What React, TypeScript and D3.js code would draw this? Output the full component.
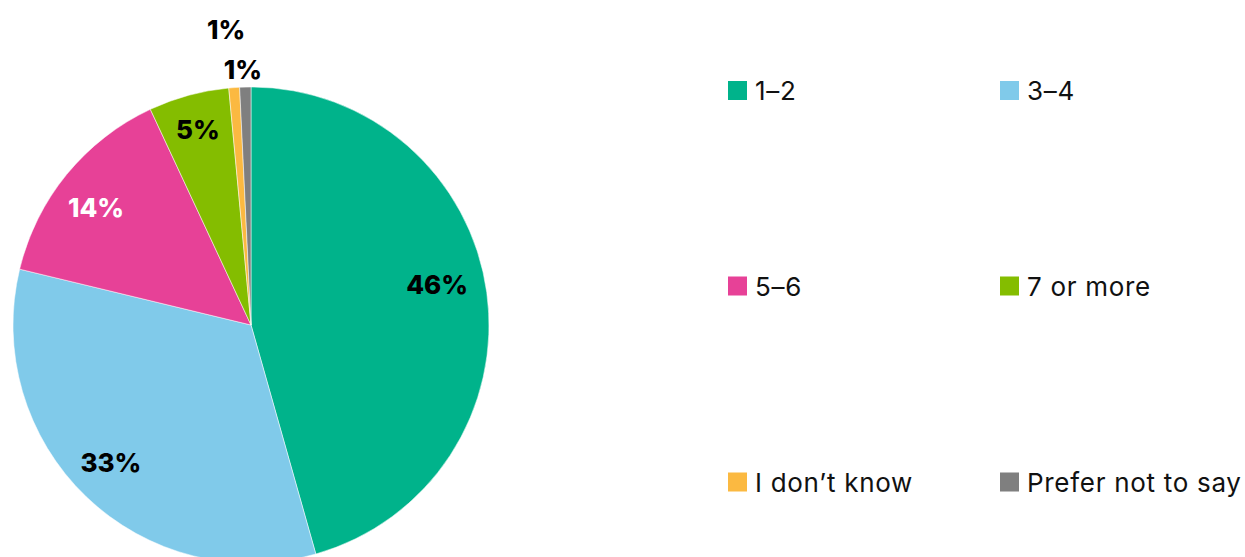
import React from "react";
import * as d3 from "d3";

const categories = ["1–2", "3–4", "5–6", "7 or more", "I don’t know", "Prefer not to say"];
const values = [45.61, 33.16, 14.28, 5.46, 0.73, 0.76];
const valueLabels = ["46%", "33%", "14%", "5%", "1%", "1%"];
const colors = ["#00B38B", "#80CAEA", "#E74197", "#84BD00", "#FBB941", "#7F7F7F"];
const labelColors = ["#000", "#000", "#fff", "#000", "#000", "#000"];

const W = 1245;
const H = 557;
const CX = 251;
const CY = 325;
const R = 238;
const FONT = "Inter, 'Open Sans', sans-serif";

export default function App() {
  const pie = d3.pie<number>().sort(null).value((d) => d);
  const arcs = pie(values);
  const arc = d3.arc<d3.PieArcDatum<number>>().innerRadius(0).outerRadius(R);
  const labelArc = d3.arc<d3.PieArcDatum<number>>().innerRadius(195).outerRadius(195);
  const outerRadii = [0, 0, 0, 0, 295, 255];
  const nudges = [[-7, -14], [-5, -3], [-4, 6], [-2, -7], [-4, -1], [-2, -1]];

  const legendX = [728, 1000];
  const legendY = [90.5, 286, 482];

  return (
    <svg
      width={W}
      height={H}
      style={{ position: "fixed", left: 0, top: 0, background: "#fff" }}
    >
      <g transform={`translate(${CX},${CY})`}>
        {arcs.map((a, i) => (
          <path key={i} d={arc(a) || ""} fill={colors[i]} stroke="#fff" strokeWidth={0.5} />
        ))}
        {arcs.map((a, i) => {
          let x: number, y: number;
          if (outerRadii[i] > 0) {
            const mid = (a.startAngle + a.endAngle) / 2;
            x = Math.sin(mid) * outerRadii[i];
            y = -Math.cos(mid) * outerRadii[i];
          } else {
            [x, y] = labelArc.centroid(a);
          }
          return (
            <text
              key={i}
              x={x + nudges[i][0]}
              y={y + nudges[i][1]}
              textAnchor="middle"
              dominantBaseline="central"
              fill={labelColors[i]}
              fontFamily={FONT}
              fontWeight={800}
              fontSize={26}
            >
              {valueLabels[i]}
            </text>
          );
        })}
      </g>
      {categories.map((c, i) => {
        const col = i % 2;
        const row = Math.floor(i / 2);
        const x = legendX[col];
        const y = legendY[row];
        return (
          <g key={c} transform={`translate(${x},${y})`}>
            <rect x={0} y={-9.5} width={19} height={19} fill={colors[i]} />
            <text
              x={27}
              y={0}
              dominantBaseline="central"
              fontFamily={FONT}
              fontSize={26}
              letterSpacing={0.7}
              fill="#111"
            >
              {c}
            </text>
          </g>
        );
      })}
    </svg>
  );
}
